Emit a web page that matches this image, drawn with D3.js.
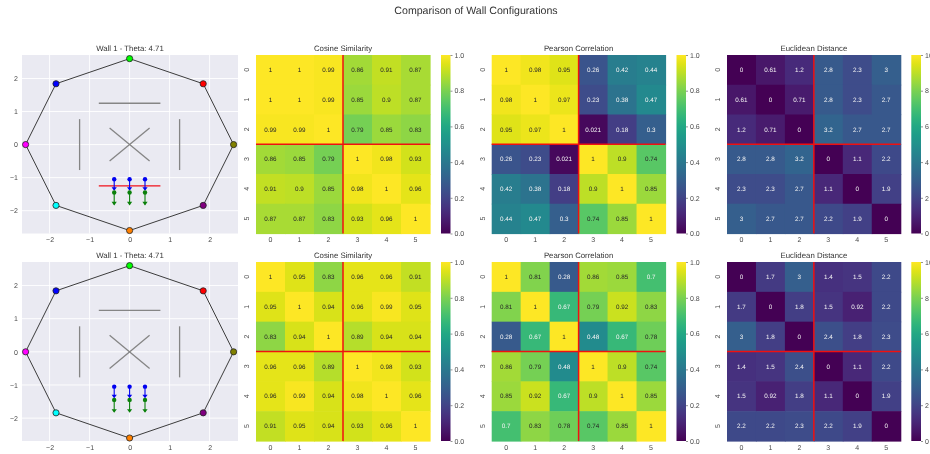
<!DOCTYPE html>
<html><head><meta charset="utf-8">
<script src="https://cdn.jsdelivr.net/npm/d3@7/dist/d3.min.js"></script>
<style>
html,body{margin:0;padding:0;background:#fff;overflow:hidden}
svg{display:block;filter:blur(0.3px)}
text{font-family:"Liberation Sans",Arial,sans-serif;text-rendering:geometricPrecision}
</style></head><body><svg id="c" width="930" height="454"></svg>
<script>
const indices=[0,1,2,3,4,5];
const cosineA=[[1,1,0.99,0.86,0.91,0.87],[1,1,0.99,0.85,0.9,0.87],[0.99,0.99,1,0.79,0.85,0.83],[0.86,0.85,0.79,1,0.98,0.93],[0.91,0.9,0.85,0.98,1,0.96],[0.87,0.87,0.83,0.93,0.96,1]];
const pearsonA=[[1,0.98,0.95,0.26,0.42,0.44],[0.98,1,0.97,0.23,0.38,0.47],[0.95,0.97,1,0.021,0.18,0.3],[0.26,0.23,0.021,1,0.9,0.74],[0.42,0.38,0.18,0.9,1,0.85],[0.44,0.47,0.3,0.74,0.85,1]];
const euclidA=[[0,0.61,1.2,2.8,2.3,3],[0.61,0,0.71,2.8,2.3,2.7],[1.2,0.71,0,3.2,2.7,2.7],[2.8,2.8,3.2,0,1.1,2.2],[2.3,2.3,2.7,1.1,0,1.9],[3,2.7,2.7,2.2,1.9,0]];
const cosineB=[[1,0.95,0.83,0.96,0.96,0.91],[0.95,1,0.94,0.96,0.99,0.95],[0.83,0.94,1,0.89,0.94,0.94],[0.96,0.96,0.89,1,0.98,0.93],[0.96,0.99,0.94,0.98,1,0.96],[0.91,0.95,0.94,0.93,0.96,1]];
const pearsonB=[[1,0.81,0.28,0.86,0.85,0.7],[0.81,1,0.67,0.79,0.92,0.83],[0.28,0.67,1,0.48,0.67,0.78],[0.86,0.79,0.48,1,0.9,0.74],[0.85,0.92,0.67,0.9,1,0.85],[0.7,0.83,0.78,0.74,0.85,1]];
const euclidB=[[0,1.7,3,1.4,1.5,2.2],[1.7,0,1.8,1.5,0.92,2.2],[3,1.8,0,2.4,1.8,2.3],[1.4,1.5,2.4,0,1.1,2.2],[1.5,0.92,1.8,1.1,0,1.9],[2.2,2.2,2.3,2.2,1.9,0]];
const nodeX=[2.6,1.84,0,-1.84,-2.6,-1.84,0,1.84];
const nodeY=[0,1.84,2.6,1.84,0,-1.84,-2.6,-1.84];
const nodeColors=["#808000","#ff0000","#00ff00","#0000ff","#ff00ff","#00ffff","#ff8000","#800080"];
const wallSegments=[[-0.77,1.25,0.77,1.25],[-1.25,-0.77,-1.25,0.77],[1.25,-0.77,1.25,0.77],[-0.5,-0.5,0.5,0.5],[-0.5,0.5,0.5,-0.5]];
const activeWall=[-0.77,-1.25,0.77,-1.25];
const rayX=[-0.385,0,0.385];
const blueStart=-1.05, blueEnd=-1.37, greenStart=-1.45, greenEnd=-1.81;

const svg=d3.select("#c");
const titleInk="#333", tickInk="#4a4a4a";
svg.append("text").attr("x",476).attr("y",14).attr("text-anchor","middle").attr("font-size",10.6).attr("fill",titleInk).text("Comparison of Wall Configurations");

const rows=[
 {top:55,bottom:233.5,wall:true,title:"Wall 1 - Theta: 4.71",maps:[cosineA,pearsonA,euclidA]},
 {top:262,bottom:441,wall:false,title:"Wall 1 - Theta: 4.71",maps:[cosineB,pearsonB,euclidB]}];
const mapCols=[{x0:256,x1:430,b0:441,b1:450.5,title:"Cosine Similarity",max:1,ticks:[0,0.2,0.4,0.6,0.8,1],f:d3.format(".1f")},
 {x0:491.7,x1:665.5,b0:676.5,b1:686,title:"Pearson Correlation",max:1,ticks:[0,0.2,0.4,0.6,0.8,1],f:d3.format(".1f")},
 {x0:727,x1:900.7,b0:911.3,b1:921,title:"Euclidean Distance",max:10,ticks:[0,2,4,6,8,10],f:d3.format("d")}];

function lum(c){const o=d3.rgb(c);const g=v=>{v/=255;return v<=0.03928?v/12.92:Math.pow((v+0.055)/1.055,2.4)};return 0.2126*g(o.r)+0.7152*g(o.g)+0.0722*g(o.b);}
function styleAxis(g){g.select(".domain").remove();g.selectAll("text").attr("fill",tickInk).attr("font-size",7).attr("font-family",'"Liberation Sans",Arial,sans-serif');}
const defs=svg.append("defs");
const grad=defs.append("linearGradient").attr("id","vir").attr("x1",0).attr("x2",0).attr("y1",1).attr("y2",0);
d3.range(0,1.0001,0.05).forEach(t=>grad.append("stop").attr("offset",t).attr("stop-color",d3.interpolateViridis(t)));

rows.forEach(r=>{
 const x=d3.scaleLinear().domain([-2.69,2.71]).range([22,238]);
 const y=d3.scaleLinear().domain([-2.69,2.71]).range([r.bottom,r.top]);
 const p=svg.append("g");
 p.append("rect").attr("x",22).attr("y",r.top).attr("width",216).attr("height",r.bottom-r.top).attr("fill","#eaeaf2");
 const tv=[-2,-1,0,1,2];
 p.selectAll(".gx").data(tv).join("line").attr("x1",d=>x(d)).attr("x2",d=>x(d)).attr("y1",r.top).attr("y2",r.bottom).attr("stroke","#fff").attr("stroke-width",0.9);
 p.selectAll(".gy").data(tv).join("line").attr("y1",d=>y(d)).attr("y2",d=>y(d)).attr("x1",22).attr("x2",238).attr("stroke","#fff").attr("stroke-width",0.9);
 const ax=p.append("g").attr("transform",`translate(0,${r.bottom})`).call(d3.axisBottom(x).tickValues(tv).tickSize(0).tickPadding(4).tickFormat(d=>d<0?"\u2212"+(-d):d));
 styleAxis(ax);
 const ay=p.append("g").attr("transform","translate(22,0)").call(d3.axisLeft(y).tickValues(tv).tickSize(0).tickPadding(4).tickFormat(d=>d<0?"\u2212"+(-d):d));
 styleAxis(ay);
 const nodes=nodeX.map((v,i)=>[x(v),y(nodeY[i])]);
 p.append("path").attr("d",d3.line().curve(d3.curveLinearClosed)(nodes)).attr("fill","none").attr("stroke","#3c3c3c").attr("stroke-width",1);
 p.selectAll(".w").data(wallSegments).join("line").attr("x1",d=>x(d[0])).attr("y1",d=>y(d[1])).attr("x2",d=>x(d[2])).attr("y2",d=>y(d[3])).attr("stroke","#858585").attr("stroke-width",1.3);
 if(r.wall){p.append("line").attr("x1",x(activeWall[0])).attr("y1",y(activeWall[1])).attr("x2",x(activeWall[2])).attr("y2",y(activeWall[3])).attr("stroke","#f0101a").attr("stroke-width",1.3);}
 const ray=(col,s,e)=>{
  p.selectAll(null).data(rayX).join("line").attr("x1",d=>x(d)).attr("x2",d=>x(d)).attr("y1",y(s)).attr("y2",y(e)).attr("stroke",col).attr("stroke-width",1.1);
  p.selectAll(null).data(rayX).join("circle").attr("cx",d=>x(d)).attr("cy",y(s)).attr("r",2.2).attr("fill",col);
  p.selectAll(null).data(rayX).join("path").attr("d",d=>{const X=x(d),Y=y(e);return `M${X-2.6},${Y-2.6}L${X+2.6},${Y-2.6}L${X},${Y+1}Z`;}).attr("fill",col);
 };
 ray("#0000f0",blueStart,blueEnd);
 ray("#0a800a",greenStart,greenEnd);
 p.selectAll(".n").data(nodes).join("circle").attr("cx",d=>d[0]).attr("cy",d=>d[1]).attr("r",3.1).attr("fill",(d,i)=>nodeColors[i]).attr("stroke","#222").attr("stroke-width",0.8);
 p.append("text").attr("x",130).attr("y",r.top-4.5).attr("text-anchor","middle").attr("font-size",7.8).attr("fill",titleInk).text(r.title);

 mapCols.forEach((m,mi)=>{
  const data=r.maps[mi];
  const g=svg.append("g");
  const bx=d3.scaleBand().domain(indices).range([m.x0,m.x1]);
  const by=d3.scaleBand().domain(indices).range([r.top,r.bottom]);
  const col=d3.scaleSequential(d3.interpolateViridis).domain([0,m.max]);
  const cells=data.flatMap((row,i)=>row.map((v,j)=>({i,j,v})));
  g.selectAll("rect").data(cells).join("rect").attr("x",d=>bx(d.j)).attr("y",d=>by(d.i)).attr("width",bx.bandwidth()+0.6).attr("height",by.bandwidth()+0.6).attr("fill",d=>col(d.v));
  g.selectAll(".a").data(cells).join("text").attr("x",d=>bx(d.j)+bx.bandwidth()/2).attr("y",d=>by(d.i)+by.bandwidth()/2).attr("dy","0.35em").attr("text-anchor","middle").attr("font-size",6.3).attr("fill",d=>lum(col(d.v))>0.408?"#262626":"#f4f4f4").text(d=>d.v);
  g.append("line").attr("x1",bx(3)).attr("x2",bx(3)).attr("y1",r.top).attr("y2",r.bottom).attr("stroke","#f01010").attr("stroke-width",1.5);
  g.append("line").attr("x1",m.x0).attr("x2",m.x1).attr("y1",by(3)).attr("y2",by(3)).attr("stroke","#f01010").attr("stroke-width",1.5);
  const axb=g.append("g").attr("transform",`translate(0,${r.bottom})`).call(d3.axisBottom(bx).tickSize(0).tickPadding(4));
  styleAxis(axb);
  const axl=g.append("g").attr("transform",`translate(${m.x0},0)`).call(d3.axisLeft(by).tickSize(0).tickPadding(4));
  styleAxis(axl);
  axl.selectAll("text").attr("text-anchor","middle").attr("x",0).attr("dy",0).attr("y",0).attr("transform",`translate(-8.5,0) rotate(-90)`).attr("dominant-baseline","middle");
  g.append("text").attr("x",(m.x0+m.x1)/2).attr("y",r.top-4.5).attr("text-anchor","middle").attr("font-size",7.8).attr("fill",titleInk).text(m.title);
  const cb=d3.scaleLinear().domain([0,m.max]).range([r.bottom,r.top]);
  g.append("rect").attr("x",m.b0).attr("y",r.top).attr("width",m.b1-m.b0).attr("height",r.bottom-r.top).attr("fill","url(#vir)");
  const axc=g.append("g").attr("transform",`translate(${m.b1},0)`).call(d3.axisRight(cb).tickValues(m.ticks).tickSize(2).tickPadding(2).tickFormat(m.f));
  axc.selectAll("line").attr("stroke",tickInk).attr("stroke-width",0.6);
  styleAxis(axc);
 });
});
</script></body></html>
